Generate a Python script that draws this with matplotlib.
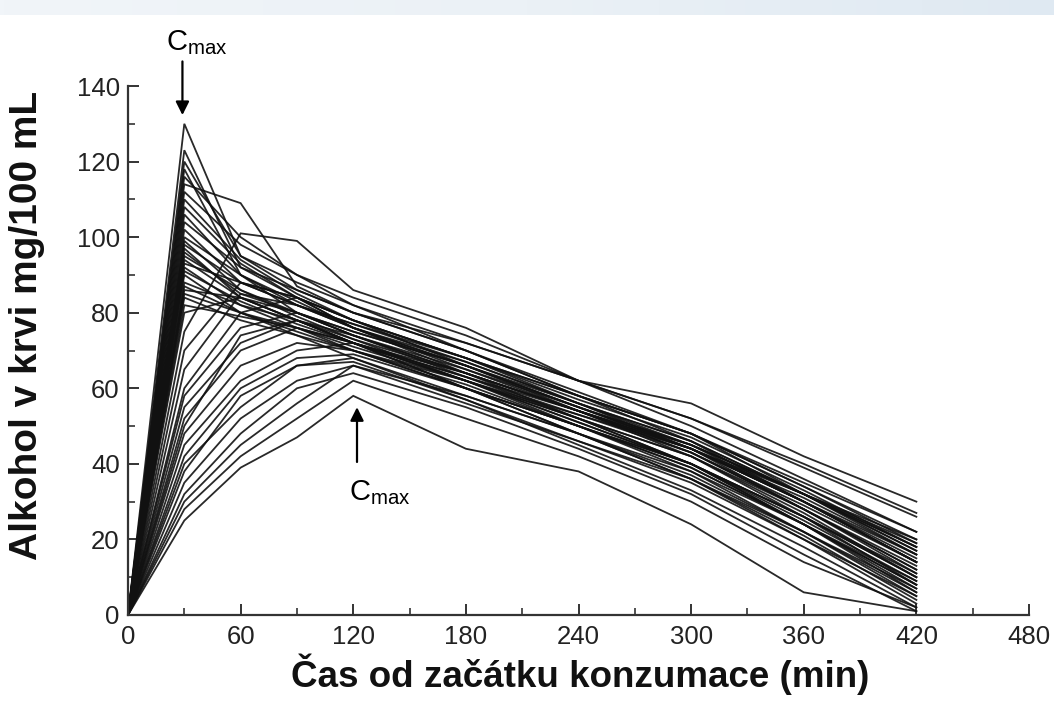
import numpy as np
import matplotlib
matplotlib.use("Agg")
import matplotlib.pyplot as plt
from matplotlib import font_manager
from matplotlib.ticker import MultipleLocator
from matplotlib.colors import LinearSegmentedColormap

# ---- data (blood alcohol, mg/100 mL) ----
times = [0, 30, 60, 90, 120, 180, 240, 300, 360, 420]
c0 = [0] * 48
c30 = [130, 123, 120, 118, 116, 114, 112, 110, 108, 106, 104, 102, 100, 99, 98, 97, 96, 95, 94, 93, 92, 91, 90, 88,
       87, 86, 85, 84, 82, 80, 75, 70, 65, 60, 58, 55, 52, 50, 48, 45, 42, 40, 38, 35, 32, 30, 28, 25]
c60 = [95, 92, 95, 90, 100, 109, 98, 94, 93, 90, 92, 88, 90, 86, 88, 84, 85, 86, 84, 88, 82, 83, 80, 82,
       80, 84, 80, 78, 79, 84, 101, 88, 85, 80, 76, 72, 70, 74, 66, 62, 60, 55, 58, 52, 48, 45, 42, 39]
c90 = [86, 84, 88, 82, 90, 87, 90, 85, 84, 83, 86, 82, 80, 80, 82, 78, 80, 79, 78, 84, 76, 77, 75, 78,
       74, 80, 76, 74, 76, 78, 99, 84, 82, 84, 80, 78, 76, 78, 72, 70, 68, 66, 66, 62, 60, 56, 52, 47]
c120 = [80, 78, 82, 76, 84, 80, 82, 78, 76, 76, 80, 76, 74, 74, 77, 72, 75, 73, 72, 78, 70, 72, 70, 73,
        68, 75, 71, 70, 72, 72, 86, 78, 77, 76, 74, 74, 72, 72, 70, 72, 69, 68, 67, 66, 64, 66, 62, 58]
c180 = [70, 68, 72, 66, 74, 72, 70, 66, 64, 65, 70, 67, 63, 64, 68, 62, 66, 62, 60, 68, 60, 63, 61, 64,
        57, 66, 62, 62, 64, 62, 76, 68, 67, 66, 64, 65, 62, 60, 60, 63, 60, 58, 57, 58, 55, 56, 52, 44]
c240 = [58, 56, 62, 54, 62, 62, 58, 55, 52, 54, 59, 56, 52, 54, 58, 51, 56, 50, 48, 57, 50, 54, 50, 54,
        46, 55, 52, 53, 54, 51, 62, 58, 56, 55, 54, 55, 52, 48, 50, 53, 50, 48, 45, 48, 44, 46, 42, 38]
c300 = [46, 44, 52, 42, 50, 52, 48, 44, 40, 43, 48, 45, 40, 44, 48, 40, 46, 38, 36, 47, 40, 44, 39, 45,
        35, 45, 42, 44, 43, 40, 56, 48, 46, 44, 44, 45, 42, 36, 40, 43, 39, 37, 33, 38, 32, 36, 30, 24]
c360 = [30, 28, 39, 26, 36, 40, 32, 30, 24, 28, 34, 32, 26, 30, 35, 25, 32, 22, 20, 33, 26, 31, 24, 32,
        20, 30, 28, 32, 28, 24, 42, 34, 32, 30, 30, 32, 27, 21, 26, 29, 24, 22, 18, 24, 16, 22, 14, 6]
c420 = [14, 12, 26, 8, 22, 27, 16, 14, 8, 13, 19, 17, 10, 15, 22, 9, 18, 6, 3, 18, 11, 16, 7, 19,
        5, 14, 12, 20, 11, 6, 30, 20, 17, 14, 16, 18, 10, 4, 10, 14, 8, 5, 2, 9, 1, 7, 2, 1]

xticks = [0, 60, 120, 180, 240, 300, 360, 420, 480]
yticks = [0, 20, 40, 60, 80, 100, 120, 140]
xlabel = "Čas od začátku konzumace (min)"
ylabel = "Alkohol v krvi mg/100 mL"

# ---- fonts ----
names = {f.name for f in font_manager.fontManager.ttflist}
narrow = "Liberation Sans Narrow" if "Liberation Sans Narrow" in names else "Liberation Sans"
plt.rcParams["font.family"] = ["Liberation Sans", "DejaVu Sans"]
plt.rcParams["mathtext.fontset"] = "custom"
plt.rcParams["mathtext.rm"] = narrow
plt.rcParams["mathtext.it"] = narrow

fig = plt.figure(figsize=(10.54, 7.02), dpi=100)
fig.patch.set_facecolor("white")

# faint blue band at the top (slide decoration)
band = fig.add_axes([0, 1 - 15 / 702, 1, 15 / 702])
grad = np.linspace(0, 1, 256).reshape(1, -1)
cm = LinearSegmentedColormap.from_list("b", ["#f1f5f9", "#ebf1f6", "#dfe9f2"])
band.imshow(grad, aspect="auto", cmap=cm)
band.axis("off")

ax = fig.add_axes([128 / 1054, 1 - 615 / 702, 901 / 1054, 529 / 702])

data = np.array([c0, c30, c60, c90, c120, c180, c240, c300, c360, c420], dtype=float)
for i in range(data.shape[1]):
    ax.plot(times, data[:, i], color="#111111", lw=1.3, alpha=0.9, solid_joinstyle="miter")

ax.set_xlim(0, 480)
ax.set_ylim(0, 140)
for s in ("top", "right"):
    ax.spines[s].set_visible(False)
for s in ("left", "bottom"):
    ax.spines[s].set_linewidth(1.6)
    ax.spines[s].set_color("#333333")

ax.set_xticks(xticks)
ax.set_yticks(yticks)
ax.xaxis.set_minor_locator(MultipleLocator(30))
ax.yaxis.set_minor_locator(MultipleLocator(10))
ax.tick_params(which="major", direction="in", length=8, width=1.4, color="#333333")
ax.tick_params(which="minor", direction="in", length=5, width=1.2, color="#333333")
ax.tick_params(axis="x", which="major", pad=7)
ax.tick_params(axis="y", which="major", pad=6)
for lab in ax.get_xticklabels() + ax.get_yticklabels():
    lab.set_fontfamily([narrow, "DejaVu Sans"])
    lab.set_fontsize(18.5)
    lab.set_color("#222222")

ax.set_xlabel(xlabel, fontsize=26.5, fontweight="bold", color="#111111")
ax.xaxis.set_label_coords(0.502, -0.072)
ax.set_ylabel(ylabel, fontsize=28, fontweight="bold", color="#111111")
ax.yaxis.set_label_coords(-0.092, 0.548)

# C_max annotations
ax.annotate("", xy=(29, 132.3), xytext=(29, 146.5),
            arrowprops=dict(arrowstyle="-|>", lw=1.6, color="black", mutation_scale=20,
                            shrinkA=0, shrinkB=0),
            annotation_clip=False)
ax.text(20.5, 149.5, r"C$_{\mathrm{max}}$", fontsize=21, fontfamily=[narrow, "DejaVu Sans"],
        ha="left", va="baseline", clip_on=False)

ax.annotate("", xy=(122, 55), xytext=(122, 40.5),
            arrowprops=dict(arrowstyle="-|>", lw=1.6, color="black", mutation_scale=20,
                            shrinkA=0, shrinkB=0),
            annotation_clip=False)
ax.text(118, 30.5, r"C$_{\mathrm{max}}$", fontsize=21, fontfamily=[narrow, "DejaVu Sans"],
        ha="left", va="baseline")

fig.savefig("out.png", dpi=100)
